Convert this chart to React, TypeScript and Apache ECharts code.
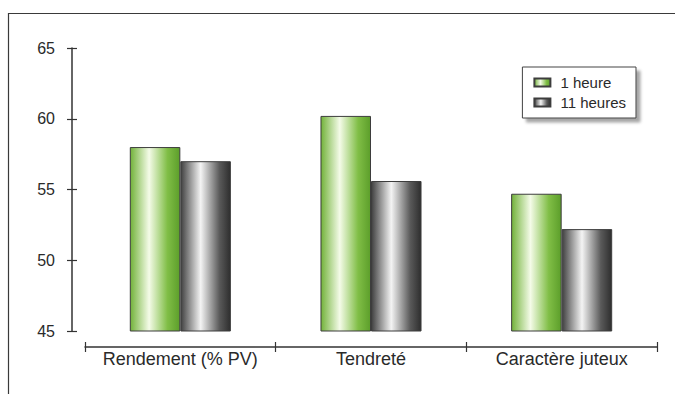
import React, { useEffect, useRef } from "react";
import * as echarts from "echarts";

const categories = ["Rendement (% PV)", "Tendreté", "Caractère juteux"];
const seriesNames = ["1 heure", "11 heures"];
const oneHour = [58.0, 60.2, 54.7];
const elevenHours = [57.0, 55.6, 52.2];
const yTicks = { min: 45, max: 65, interval: 5 };

const FONT = "'Liberation Sans', Arial, sans-serif";
const TEXT = "#2a2a2a";
const AXIS = "#333333";

const greenFill = new echarts.graphic.LinearGradient(0, 0, 1, 0, [
  { offset: 0, color: "#72b23a" },
  { offset: 0.38, color: "#f4fbe8" },
  { offset: 0.75, color: "#80be46" },
  { offset: 1, color: "#5c9e2a" },
]);
const grayFill = new echarts.graphic.LinearGradient(0, 0, 1, 0, [
  { offset: 0, color: "#404040" },
  { offset: 0.4, color: "#f4f4f4" },
  { offset: 0.78, color: "#5a5a5a" },
  { offset: 1, color: "#2e2e2e" },
]);

export default function App() {
  const ref = useRef<HTMLDivElement>(null);

  useEffect(() => {
    if (!ref.current) return;
    const chart = echarts.init(ref.current, null, { renderer: "svg" });
    // Each axis is drawn twice: the second copy, shifted toward the plot and
    // without a line, adds the half of each tick that lies on the inner side.
    const yBase = {
      type: "value" as const,
      position: "left" as const,
      min: yTicks.min,
      max: yTicks.max,
      interval: yTicks.interval,
      splitLine: { show: false },
    };
    const xBase = {
      type: "category" as const,
      data: categories,
      position: "bottom" as const,
    };
    chart.setOption({
      animation: false,
      backgroundColor: "#ffffff",
      textStyle: { fontFamily: FONT },
      graphic: [
        {
          type: "rect",
          shape: { x: 8.5, y: 13.5, width: 700, height: 420 },
          style: { fill: "none", stroke: "#3a3a3a", lineWidth: 1.2 },
          silent: true,
          z: -10,
        },
      ],
      grid: { left: 85, right: 18, top: 48, bottom: 63, containLabel: false },
      legend: {
        data: seriesNames,
        orient: "vertical",
        right: 39,
        top: 67,
        itemWidth: 16,
        itemHeight: 8,
        itemGap: 5,
        icon: "rect",
        padding: [8, 10, 8, 11],
        backgroundColor: "#ffffff",
        borderColor: "#444444",
        borderWidth: 1,
        borderRadius: 0,
        shadowColor: "rgba(0,0,0,0.35)",
        shadowBlur: 3,
        shadowOffsetX: 4,
        shadowOffsetY: 4,
        textStyle: { fontFamily: FONT, fontSize: 15, color: TEXT, padding: [0, 0, 0, 5] },
      },
      xAxis: [
        {
          ...xBase,
          offset: 16,
          axisLine: { show: true, lineStyle: { color: AXIS, width: 1.5 } },
          axisTick: { show: true, length: 5, lineStyle: { color: AXIS, width: 1.2 } },
          axisLabel: {
            interval: 0,
            hideOverlap: false,
            fontFamily: FONT,
            fontSize: 18,
            color: TEXT,
            margin: 3,
          },
        },
        {
          ...xBase,
          offset: 11,
          axisLine: { show: false },
          axisTick: { show: true, length: 5, lineStyle: { color: AXIS, width: 1.2 } },
          axisLabel: { show: false },
        },
      ],
      yAxis: [
        {
          ...yBase,
          offset: 13,
          axisLine: { show: true, lineStyle: { color: AXIS, width: 1.5 } },
          axisTick: { show: true, length: 5, lineStyle: { color: AXIS, width: 1.2 } },
          axisLabel: { fontFamily: FONT, fontSize: 16, color: TEXT, margin: 17 },
        },
        {
          ...yBase,
          offset: 8,
          axisLine: { show: false },
          axisTick: { show: true, length: 5, lineStyle: { color: AXIS, width: 1.2 } },
          axisLabel: { show: false },
        },
      ],
      series: [
        {
          name: seriesNames[0],
          type: "bar",
          data: oneHour,
          barGap: "0%",
          barCategoryGap: "47%",
          itemStyle: { color: greenFill, borderColor: "#3d3d3d", borderWidth: 1 },
        },
        {
          name: seriesNames[1],
          type: "bar",
          data: elevenHours,
          itemStyle: { color: grayFill, borderColor: "#3d3d3d", borderWidth: 1 },
        },
      ],
    });
    return () => chart.dispose();
  }, []);

  return (
    <div
      ref={ref}
      style={{ position: "fixed", left: 0, top: 0, width: 675, height: 394, background: "#fff" }}
    />
  );
}
